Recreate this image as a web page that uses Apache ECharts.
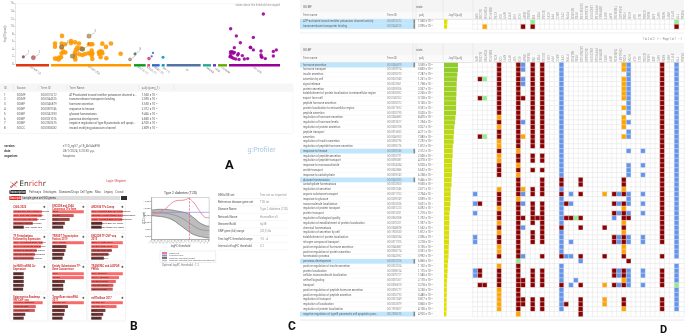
<!DOCTYPE html>
<html><head><meta charset="utf-8">
<style>html,body{margin:0;padding:0;background:#fff;overflow:hidden}#c{width:685px;height:335px;filter:blur(0.35px)}</style>
<script src="https://cdn.jsdelivr.net/npm/echarts@6/dist/echarts.min.js"></script>
</head><body><div id="c"></div>
<script>
/* ---------- Panel A data ---------- */
const sources = [
 ['GO:MF (2)',48,147,'#dc3912'],['GO:BP (53)',153,393,'#ff9900'],['GO:CC (1)',402,437,'#109618'],
 ['KEGG (1)',442,450,'#dd4477'],['REAC (2)',456,479,'#3366cc'],['WP (1)',485,494,'#0099c6'],
 ['TF',500,602,'#5574a6'],['MIRNA',609,633,'#22aa99'],['HPA',639,648,'#6633cc'],['CORUM',654,681,'#66aa00'],['HP (39)',687,840,'#990099']];
const bpPoints=[[186,7.5],[165,5.5],[165,4.65],[185,5.5],[195,5.3],[185,4.4],[213,6.15],[213,5.6],[225,5.8],[237,5.5],[267,5.3],[272,5.3],[277,5.3],[307,5.45],[333,5.5],[318,4.6],[232,4.4],[228,3.8],[225,3.1],[238,2.65],[247,2.45],[255,2.7],[265,2.9],[275,3.6],[277,2.9],[275,2.3],[297,3.15],[305,3.35],[307,2.9],[298,2.65],[302,1.85],[319,1.6],[362,2.8],[165,1.5],[172,1.5],[178,1.75],[183,1.85],[176,1.3],[190,3.35],[196,3.1],[185,2.9],[225,1.85],[226,1.3],[277,1.4],[272,2.9],[242,4.2],[300,3.35],[225,2.45],[248,4.05]];
const keggPoints=[[447,1.5]];
const reacPoints=[[455,2.1],[459,3]];
const wpPoints=[[489,1.85]];
const hpPoints=[[692,9.4],[709,7.5],[721,5.7],[760,7.1],[790,13.3],[703,4.4],[751,4.5],[752,4.4],[760,3.8],[783,3.5],[783,2.45],[784,2],[796,1.5],[786,1.85],[820,3.4],[829,3.8],[820,2.2],[692,3.35],[697,3.35],[703,3.15],[692,2.9],[700,2.9],[715,2.8],[692,2.3],[690,2],[695,1.85],[700,1.6],[707,1.4],[713,2.45],[727,2.3],[733,1.4],[743,1.5],[717,1.3]];
const highlighted=[[70,1.95,'1','#a52a3a',2.6],[100,1.75,'2','#d04a55',4.2],[267,7.45,'3','#c08a3a',4.4],[185,4.6,'4','#a0824a',4.4],[247,4,'5','#8a7a55',4.4],[217,2.16,'6','#a88a40',4.4],[390,1.3,'7','#c08a3a',3],[405,2.7,'8','#2a8a4a',2.6]];
const tableA=[
 ['1','GO:MF','GO:0015272','ATP-activated inward rectifier potassium channel a...',1.56e-2],
 ['2','GO:MF','GO:0044325','transmembrane transporter binding',2.095e-2],
 ['3','GO:BP','GO:0046879','hormone secretion',3.53e-8],
 ['4','GO:BP','GO:0009746','response to hexose',2.312e-5],
 ['5','GO:BP','GO:0042593','glucose homeostasis',9.466e-5],
 ['6','GO:BP','GO:0031016','pancreas development',6.86e-3],
 ['7','GO:BP','GO:2000675','negative regulation of type B pancreatic cell apopt...',4.92e-2],
 ['8','GO:CC','GO:0008282','inward rectifying potassium channel',2.809e-3]];
const metaA=[['version','e110_eg57_p18_4b54a898'],['date','28/1/2024, 3:20:30 μ.μ.'],['organism','hsapiens']];

/* ---------- Panel B data ---------- */
const enrichrNav=['Pathways','Ontologies','Diseases/Drugs','Cell Types','Misc','Legacy','Crowd'];
const cardTitles=['ChEA 2022','ENCODE and ChEA\nConsensus TFs from','ARCHS4 TFs Coexp','TF Perturbations\nFollowed by Expression','TRRUST Transcription\nFactors 2019','ENCODE TF ChIP-seq\n2015','lncHUB lncRNA Co-\nExpression','Enrichr Submissions TF-\nGene Coocurrence','TRANSFAC and JASPAR\nPWMs','Epigenomics Roadmap\nHM ChIP-seq','TargetScan microRNA\n2017','miRTarBase 2017'];
const cardValues=[[.95,.95,.8,.65,.35],[1,.68,.55,.4,.35],[1,1,.98,.35,.33],[.98,.92,.78,.72,.68],[1,.45,.42,.38,.33],[1,.85,.65,.55,.4],[.35,.35,.35,.35,.33],[1,1,.4,.35,.35],[1,.88,.78,.7,.68],[.98,.75,.72,.4,.35],[1,.5,.4,.38,.33],[1,.8,.45,.38,.33]];
const cardTerms=[
 ['FOXA2 ChIP-Seq Human Pancreas','PDX1 ChIP-Seq Human Islets','NKX2-2 ChIP-Seq Human Islets','NEUROD1 ChIP-Seq Mouse','REST ChIP-Seq Human NT2'],
 ['REST','FOXA2','PDX1','TAF1','SP1'],
 ['PDX1 human tf ARCHS4 coexpression','NEUROD1 human tf ARCHS4 coexpression','INSM1 human tf ARCHS4 coexpression','RFX6 human tf ARCHS4 coexp','MAFB human tf ARCHS4 coexp'],
 ['PDX1 KO MOUSE GSE14 DOWN','NKX2-2 KO MOUSE GSE DOWN','FOXA2 KO MOUSE GSE DOWN','HNF1A KO MOUSE GSE DOWN','ISL1 KO MOUSE GSE DOWN'],
 ['PDX1 human','NEUROD1','FOXA2','HNF1A','SP1'],
 ['REST H1-hESC hg19','FOXA2 HepG2 hg19','HNF4A HepG2 hg19','SIN3A K562 hg19','EZH2 NT2 hg19'],
 ['LINC00','MIR7-3','MEG3','H19','GAS5'],
 ['PDX1','FOXA2','NKX6','REST','ISL1'],
 ['PDX1 (mouse)','NKX6-1 (human)','FOXA2 (human)','HNF1A (human)','MAFB (human)'],
 ['H3K4me1 pancreas','H3K27ac islet','H3K4me3 islet','H3K36','H3K9'],
 ['hsa-miR-375','hsa-miR-7','hsa-miR-9','hsa-29','hsa-124'],
 ['hsa-miR-375','hsa-miR-124','hsa-7','hsa-9','hsa-29']];
/* ---------- Panel C data ---------- */
const logfcTicks=['-1.0','-0.8','-0.6','-0.4','-0.2','0.0','0.2','0.4','0.6','0.8','1.0','1.2','1.4','1.6','1.8','2.0','2.2','2.4'];
const observed=[8190,8480,8670,9140,9710,10570,11520,12000,12190,12190,12380,12760,12000,10860,9330,8000,7240,7240];
const lowest=[8760,8760,8760,8760,8760,8760,8760,8760,8760,8760,8760,8760,8760,8760,8760,8760,8760,8760];
const randomMean=[8670,8670,8570,8570,8480,8380,8190,7900,7520,7050,6480,5810,5140,4480,4000,3710,3620,3520];
const randomHigh=[9430,9520,9620,9620,9620,9520,9430,9240,9050,8860,8670,8290,7520,6760,5900,5330,4950,4760];
const randomLow=[7810,7710,7620,7520,7330,7050,6670,6100,5330,4670,3900,3240,2570,2190,1900,1710,1520,1430];
const lccTicks=[2000,4000,6000,8000,10000,12000];
const optimalIdx='1.2';
const runInfo=[['DEGs/DE set','Test set as imported'],['Reference disease gene set','T2D.txt'],['Disease Name','Type 2 diabetes (T2D)'],['Network Name','HumanNet.v3'],['Genome Build','hg38'],['SNP gene (kb) range','(20,0) kb'],['Test logFC threshold range','-10 : 4'],['Interval of logFC threshold','0.2']];
/* ---------- Panel D data ---------- */
const genes=['GIPR','SLC30A','PCSK1N8','INSM1CA','KCNJ','CCK','NPY1','SYT7','VGF','GCG','SNAP','RAB3A','INS','PDX1','SCG3A','GCK1','PPY','ABCC','CPE1','PTPN','NEUROD','RFX6','CACNA1CAS','SLC2A2AS','LINC01018','PPP1R1AS','SERPINA1','SST2','IAPP','TMEM37A','CHGA-AS1','FOXA','KCNK','GLP','ISL1','UCN3A','MAFA','ARX','G6PC','NKX6','HNF1','SYT13','TTR','PAX6A'];
const mfTerms=['ATP-activated inward rectifier potassium channel activity','transmembrane transporter binding'];
const mfIds=['GO:0015272','GO:0044325'];
const mfP=[1.56e-2,2.095e-2];
const mfCells=['g12 g42','o2 d10 d12 d42'];
const bpTerms=['hormone secretion','hormone transport','insulin secretion','secretion by cell','signal release','protein secretion','establishment of protein localization to extracellular region','export from cell','peptide hormone secretion','protein localization to extracellular region','peptide secretion','regulation of hormone secretion','regulation of hormone levels','regulation of protein secretion','peptide transport','secretion','regulation of insulin secretion','regulation of peptide hormone secretion','response to hexose','regulation of peptide secretion','regulation of peptide transport','response to monosaccharide','amide transport','response to carbohydrate','glucose homeostasis','carbohydrate homeostasis','regulation of secretion','organic substance transport','response to glucose','macromolecule localization','regulation of protein transport','protein transport','regulation of biological quality','regulation of establishment of protein localization','chemical homeostasis','regulation of secretion by cell','establishment of protein localization','nitrogen compound transport','positive regulation of hormone secretion','positive regulation of protein secretion','homeostatic process','pancreas development','positive regulation of insulin secretion','protein localization','cellular macromolecule localization','cell-cell signaling','transport','positive regulation of peptide hormone secretion','positive regulation of peptide secretion','regulation of transport','regulation of localization','regulation of protein localization','negative regulation of type B pancreatic cell apoptotic proc...'];
const bpIds=['GO:0046879','GO:0009914','GO:0030073','GO:0032940','GO:0023061','GO:0009306','GO:0035592','GO:0140352','GO:0030072','GO:0071692','GO:0002790','GO:0046883','GO:0010817','GO:0050708','GO:0015833','GO:0046903','GO:0050796','GO:0090276','GO:0009746','GO:0002791','GO:0090087','GO:0034284','GO:0042886','GO:0009743','GO:0042593','GO:0033500','GO:0051046','GO:0071702','GO:0009749','GO:0033036','GO:0051223','GO:0015031','GO:0065008','GO:0070201','GO:0048878','GO:1903530','GO:0045184','GO:0071705','GO:0046887','GO:0050714','GO:0042592','GO:0031016','GO:0032024','GO:0008104','GO:0070727','GO:0007267','GO:0006810','GO:0090277','GO:0002793','GO:0051049','GO:0032879','GO:1903827','GO:2000675'];
const bpP=[3.53e-8,3.853e-8,7.287e-8,1.261e-7,1.758e-7,2.037e-7,2.265e-7,3.128e-7,3.16e-7,3.351e-7,3.52e-7,8.47e-7,1.294e-6,3.027e-6,4.211e-6,7.083e-6,7.292e-6,1.812e-5,2.312e-5,2.5e-5,4.31e-5,5.02e-5,5.632e-5,6.258e-5,9.466e-5,9.53e-5,2.671e-4,2.704e-4,3.039e-4,3.601e-4,6.092e-4,1.21e-3,1.292e-3,1.397e-3,1.552e-3,1.812e-3,2.036e-3,2.218e-3,3.135e-3,3.351e-3,3.992e-3,6.86e-3,1.102e-2,1.175e-2,1.545e-2,2.17e-2,3.218e-2,3.25e-2,3.48e-2,3.817e-2,3.86e-2,4.1e-2,4.92e-2];
const bpHighlight=[0,18,24,41,52];
const bpCells=[
'd5 d9 b10 d12 d14 b18 o31 b32 d39 b42','d5 d9 b10 d12 d14 b18 o31 b32 d39 b42','d5 d9 d12 d14 b18 b32 d39 b42',
'd1 g2 d5 d9 b10 d12 d14 b18 o31 b32 d39 b42','d5 d9 b10 d12 d14 b18 o31 b32 d39 b42','d5 d9 d12 d14 b18 o31 b32 d39 b42',
'd5 d9 d12 d14 b18 o31 b32 d39 b42','d1 g2 d5 d9 d10 d12 d14 b18 o31 b32 d39 b42','d5 d9 d12 d14 b18 b32 d39 b42',
'd5 d9 d12 d14 b18 o31 b32 d39 b42','d5 d9 d12 d14 b18 b32 d39 b42','o5 d9 d12 d14 b18 o31 d39 b42',
'd5 d9 b10 d12 d14 b18 o31 b32 d39 b42','o5 d9 d12 d14 b18 o31 d39 b42','d5 d9 d12 d14 b18 b32 d39 b42',
'd1 g2 d5 d9 o10 d12 d14 b18 o31 b32 d39 b42','o5 d9 d12 d14 b18 d39 b42','o5 d9 d12 d14 b18 d39 b42',
'd5 o9 b18 b32 b35 d39 b42','o5 d9 d12 d14 b18 d39 b42','o5 d9 d12 d14 b18 d39 b42',
'd5 o9 b18 b32 b35 d39 b42','d5 d9 d12 d14 b18 b32 d39 b42','d5 o9 b18 b32 b35 d39 b42',
'd9 d14 d18 d22 d31 d39 b42','d9 d14 d18 d22 d31 d39 b42','o5 d9 o10 d12 d14 b18 o31 d39 b42',
'b0 d5 d9 b10 d12 d14 d18 b20 d22 o27 d29 b30 d31 b32 b35 d39 b42','d5 o9 b18 b32 d39 b42',
'b0 d1 d5 d9 b10 d12 d14 b18 d19 b20 d29 b30 d31 b32 b35 d39 b42','o5 d9 d12 d14 b18 o31 d39 b42',
'b0 d5 d9 d12 d14 b18 d29 b30 d31 b32 b35 d39 b42','d5 d9 d10 d12 d13 d14 b18 d19 d20 g21 d22 b29 d31 d32 d39 b42',
'o5 d9 d12 d14 b18 o31 d39 b42','d5 d9 b10 d14 d18 d22 d27 d31 d39 b42','o5 d9 d12 d14 b18 o31 d39 b42',
'b0 d5 d9 d12 d14 b18 d29 b30 d31 b32 b35 d39 b42','b0 d5 d9 d12 d14 b18 b20 d29 b30 d31 b32 b35 d39 b42',
'o5 d9 b18 o31 b42','o5 d9 b18 o31 b42','d5 d9 b10 d14 d18 b19 b20 d22 d27 d31 d39 b42','g9 b22 d32',
'o5 d9 b18 b42','b0 d1 d5 d9 d12 d14 b18 d29 b30 d31 b32 b35 d39 b42','b0 d1 d5 d9 d12 d14 b18 d29 b30 d31 b32 b35 d39 b42',
'd5 d9 d10 d12 d14 b18 b21 o31 b32 d39 b42','d1 d2 d5 d9 d10 d12 d14 d18 b20 d22 o27 d29 b30 d31 b32 b35 d39 g42',
'o5 d9 b18 b42','o5 d9 b18 b42','o5 d9 d10 d12 d14 b18 d22 o27 d31 d39 b42','o5 d9 d10 d12 d14 b18 d19 d22 o27 d31 d39 b42',
'o5 d9 d12 d14 b18 d22 o31 d39 b42','o9 d22'];

/* ---------- helpers ---------- */
const FONT='Roboto, "Liberation Sans", sans-serif';
const g=[];
const T=(x,y,s,size,fill)=>g.push({type:'text',x,y,silent:true,style:{text:s,fontSize:size,fontFamily:FONT,fill:fill||'#666',align:'left',verticalAlign:'middle'}});
const TS=(x,y,s,size,fill,st)=>g.push({type:'text',x,y,silent:true,style:Object.assign({text:s,fontSize:size,fontFamily:FONT,fill:fill||'#666',align:'left',verticalAlign:'middle'},st)});
const R=(x,y,w,h,fill,stroke,r)=>g.push({type:'rect',silent:true,shape:{x,y,width:w,height:h,r:r||0},style:{fill:fill||'none',stroke:stroke||'none',lineWidth:stroke?0.5:0}});
const L=(x1,y1,x2,y2,c,w)=>g.push({type:'line',silent:true,shape:{x1,y1,x2,y2},style:{stroke:c||'#e4e4e4',lineWidth:w||0.5}});
const SUP={'-':'⁻','0':'⁰','1':'¹','2':'²','3':'³','4':'⁴','5':'⁵','6':'⁶','7':'⁷','8':'⁸','9':'⁹'};
const fmtP=p=>{const [m,e]=p.toExponential(3).split('e');return m+' × 10'+String(+e).replace(/./g,c=>SUP[c]);};
const logP=p=>+(-Math.log10(p)).toFixed(3);
const parseCells=(rows)=>{const code={d:1,o:2,b:3,g:4},out=[];rows.forEach((row,r)=>{const m={};row.split(' ').forEach(t=>{m[+t.slice(1)]=code[t[0]];});genes.forEach((_,c)=>out.push([c,r,m[c]||0]));});return out;};

/* ---------- chrome: panel A ---------- */
L(15,3.7,280,3.7,'#eeeeee',0.5);
TS(280,5.4,'values above this threshold are capped',2.6,'#999',{align:'right'});
g.push({type:'text',x:5,y:34,rotation:Math.PI/2,silent:true,style:{text:'-log10(p-adj)',fontSize:3,fontFamily:FONT,fill:'#777',align:'center',verticalAlign:'middle'}});
R(0,84,293,49.5,'#ffffff','#ececec',1);
R(0,84,293,7.8,'#f6f6f6');
['ID','Source','Term ID','Term Name'].forEach((s,i)=>T([4,16.7,40.7,69.3][i],88,s,2.9,'#777'));
T(141.7,88,'p\u2090dj (query_1)',2.9,'#777');
[13.5,38.5,67,139,174].forEach(x=>L(x,85.5,x,90,'#dddddd',.5));
tableA.forEach((r,i)=>{const y=95+i*4.77;T(4,y,r[0],2.9,'#555');T(16.7,y,r[1],2.9,'#666');T(40.7,y,r[2],2.9,'#666');T(69.3,y,r[3],2.9,'#555');T(141.7,y,fmtP(r[4]),2.9,'#555');});
metaA.forEach((r,i)=>{const y=146.3+i*4.9;TS(4.3,y,r[0],3.1,'#444',{fontWeight:'bold'});T(62.7,y,r[1],3.1,'#666');});
T(247.5,150,'g:Profiler',7,'#a9c6e6');
TS(225,166,'A',13,'#111',{fontWeight:'bold'});

/* ---------- chrome: panel B ---------- */
g.push({type:'line',silent:true,shape:{x1:10.5,y1:187.5,x2:17.5,y2:181.5},style:{stroke:'#c9504f',lineWidth:1.8,lineDash:[1.4,.5]}});
g.push({type:'line',silent:true,shape:{x1:10.5,y1:182,x2:17,y2:187},style:{stroke:'#8a6a6a',lineWidth:.9,lineDash:[1.2,.8]}});
TS(19.3,184,'{a|En}{b|rich}{a|r}',7.5,'#333',{rich:{a:{fontSize:7.5,fontFamily:'"DejaVu Sans"',fill:'#3a3a3a'},b:{fontSize:7.5,fontFamily:'"DejaVu Sans"',fill:'#cc4444'}}});
TS(126,181.5,'Login | Register',2.9,'#cc4444',{align:'right'});
R(9.3,190,16.7,3.9,'#2f2f2f',null,.8);
TS(17.6,192,'Transcription',2.9,'#ffffff',{align:'center'});
enrichrNav.forEach((s,i)=>T([29,43,59,80,95,104,115.3][i],192,s,2.8,'#555'));
R(9.3,196,11.7,4,'#d9312e');
T(10,198,'Description',2.6,'#fff');
R(21,196,99,4,'#dddddd');
T(22,198,'Sample gene set/GO genes',2.8,'#444');
R(121,196,6,4,'#2f2f2f');
const cardX=[10,49,88], cardY=[203,233,263,294], cardH=[27.5,28,29,27];
const barTop=[209.8,240.8,271.8,300.8];
cardTitles.forEach((t,i)=>{
  const cx=cardX[i%3], row=Math.floor(i/3), cy=cardY[row];
  R(cx,cy,37.6,cardH[row],'#ffffff','#e6e6e6',.8);
  TS(cx+3.2,cy+(t.includes('\n')?5.2:4),t,2.6,'#cc3b3b',{fontWeight:'bold',lineHeight:3.2});
  TS(cx+32.5,cy+4,'✚',3.4,'#444');
});
TS(130,327,'B',12,'#111',{fontWeight:'bold'});

/* ---------- chrome: panel C ---------- */
TS(180.5,193,'Type 2 diabetes (T2D)',3.4,'#444',{align:'center'});
g.push({type:'text',x:144,y:218,rotation:Math.PI/2,silent:true,style:{text:'LCC (size)',fontSize:2.8,fontFamily:FONT,fill:'#555',align:'center',verticalAlign:'middle'}});
TS(180.5,246.7,'logFC threshold',2.8,'#555',{align:'center'});
TS(180.5,265,'Optimal logFC threshold : '+optimalIdx,2.9,'#777',{align:'center'});
runInfo.forEach((r,i)=>{const y=195+i*7.35;T(218,y,r[0],2.9,'#555');T(260,y,r[1],2.9,'#999');L(218,y+3.6,289,y+3.6,'#eeeeee',.5);});
TS(288,327,'C',12,'#111',{fontWeight:'bold'});

/* ---------- chrome: panel D ---------- */
const X0=300,XT=303,XID=387,XP=418,XB=444,XH=473,XE=684,RH=4.79;
function tableHead(yTop,hTop,hSub,title){
  R(X0,yTop,XE-X0,hTop,'#f5f5f5');
  R(X0,yTop+hTop,XE-X0,hSub,'#fafafa');
  T(XT,yTop+hTop*.6,title,2.9,'#666');T(416,yTop+hTop*.6,'stats',2.9,'#666');
  const yy=yTop+hTop+hSub/2;
  T(XT,yy,'Term name',2.8,'#777');T(XID,yy,'Term ID',2.8,'#777');T(419,yy,'p\u2090dj',2.8,'#777');T(448,yy,'−log10(p\u2090dj)',2.6,'#777');
  [413,416,443,473].forEach(x=>L(x,yTop,x,yTop+hTop+hSub,'#dddddd',.5));
  L(X0,yTop+hTop+hSub,XE,yTop+hTop+hSub,'#cccccc',.5);
}
function tableRows(y0,terms,ids,ps,hl){
  terms.forEach((t,i)=>{
    const y=y0+i*RH;
    if(hl.includes(i)){R(X0,y,114,RH,'#bfe6fd');R(413.5,y,1.6,RH,'#888888');}
    T(XT,y+RH/2,t,2.8,'#666');T(XID,y+RH/2,ids[i],2.6,'#888');T(XP,y+RH/2,fmtP(ps[i]),2.7,'#666');
    L(X0,y+RH,XH,y+RH,'#f1f1f1',.4);
  });
}
tableHead(0,12,7.3,'GO:MF');
tableRows(19.3,mfTerms,mfIds,mfP,[0,1]);
L(X0,33,XE,33,'#e2e2e2',.6);
TS(682,39.5,'1 to 2 of 2    |‹  ‹   Page 1 of 1   ›  ›|',2.7,'#888',{align:'right'});
tableHead(43,12,7.6,'GO:BP');
tableRows(62.6,bpTerms,bpIds,bpP,bpHighlight);
L(X0,320,XE,320,'#e2e2e2',.8);
TS(660,330,'D',11,'#111',{fontWeight:'bold'});

/* ---------- series ---------- */
const grids=[],xAxes=[],yAxes=[],series=[];
const addGrid=(gr,xa,ya)=>{grids.push(gr);xAxes.push(Object.assign({gridIndex:grids.length-1},xa));yAxes.push(Object.assign({gridIndex:grids.length-1},ya));return grids.length-1;};

/* A */
const gA=addGrid({left:15,top:3.7,width:265,height:60.6},{type:'value',min:45,max:840,show:false},
 {type:'value',min:0,max:16,interval:2,axisLine:{show:true,lineStyle:{color:'#cccccc',width:.5}},axisTick:{length:1.5,lineStyle:{color:'#aaa',width:.5}},splitLine:{show:false},axisLabel:{fontSize:2.8,color:'#888',margin:1.5,fontFamily:FONT}});
const scat=(data,color,size)=>series.push({type:'scatter',xAxisIndex:gA,yAxisIndex:gA,data,symbolSize:size,itemStyle:{color,opacity:.9},silent:true});
scat(bpPoints,'#ff9900',4.6);
scat(keggPoints,'#dd4477',3.6);
scat(reacPoints,'#3366cc',2.2);
scat(wpPoints,'#0099c6',3);
scat(hpPoints,'#990099',3.4);
series.push({type:'scatter',xAxisIndex:gA,yAxisIndex:gA,silent:true,z:4,
  labelLayout:{dx:3,dy:-5},labelLine:{show:true,length2:0,lineStyle:{color:'#888',width:.4}},
  data:highlighted.map(h=>({value:[h[0],h[1]],symbolSize:h[4],itemStyle:{color:h[3],borderColor:'#555',borderWidth:.4},label:{show:true,formatter:h[2],fontSize:2.6,color:'#555',position:'right',distance:0}}))});
series.push({type:'custom',xAxisIndex:gA,yAxisIndex:gA,silent:true,clip:false,data:sources.map(s=>[s[1],s[2],0]),
  renderItem:(p,api)=>{const s=sources[p.dataIndex],a=api.coord([s[1],0]),b=api.coord([s[2],0]);
    return {type:'group',children:[
      {type:'rect',shape:{x:a[0],y:a[1]-.2,width:b[0]-a[0],height:2.4},style:{fill:s[3]}},
      {type:'text',x:(a[0]+b[0])/2+3,y:a[1]+6,rotation:-Math.PI/5,style:{text:s[0],fontSize:2.9,fontFamily:FONT,fill:'#777',align:'center',verticalAlign:'middle'}}]};}});

/* B */
const shade=v=>echarts.color.lerp(Math.min(1,Math.max(0,(v-.33)/.5)),['#5a3030','#a04a4a','#f96a6a']);
cardValues.forEach((vals,i)=>{
  const row=Math.floor(i/3), col=i%3, cx=cardX[col];
  const w=[29.5,31,31][col]*1.02;
  const gi=addGrid({left:cx+3.2,top:barTop[row],width:w,height:19.3},{type:'value',min:0,max:1,show:false},
    {type:'category',inverse:true,show:false,data:cardTerms[i]});
  series.push({type:'bar',xAxisIndex:gi,yAxisIndex:gi,silent:true,data:vals,barWidth:3,
    itemStyle:{color:p=>shade(p.value)},
    label:{show:true,position:'insideLeft',distance:.5,fontSize:2.3,color:'#3a1818',fontFamily:FONT,formatter:p=>p.name}});
});

/* C */
const gC=addGrid({left:151.7,top:197.5,width:57.5,height:42,show:true,borderColor:'#aaaaaa',borderWidth:.5},
 {type:'category',boundaryGap:false,data:logfcTicks,axisLine:{lineStyle:{color:'#888',width:.5}},axisTick:{show:true,length:1,interval:0,lineStyle:{width:.4,color:'#888'}},axisLabel:{interval:0,rotate:45,fontSize:2.4,color:'#666',margin:1.2,fontFamily:FONT}},
 {type:'value',min:1000,max:13000,axisLine:{show:true,lineStyle:{color:'#888',width:.5}},axisTick:{show:true,length:1,customValues:lccTicks,lineStyle:{width:.4,color:'#888'}},splitLine:{show:false},axisLabel:{fontSize:2.4,color:'#666',margin:1.2,customValues:lccTicks,fontFamily:FONT}});
const lineC=(name,data,color,w,o)=>series.push(Object.assign({name,type:'line',xAxisIndex:gC,yAxisIndex:gC,data,symbol:'none',silent:true,smooth:.2,lineStyle:{color,width:w},itemStyle:{color}},o));
lineC('bandBase',randomLow,'#444',.5,{stack:'rand'});
lineC('Random subnets (two standard deviations)',randomHigh.map((v,i)=>v-randomLow[i]),'#444',.5,{stack:'rand',areaStyle:{color:'#bdbdbd',opacity:1},itemStyle:{color:'#bdbdbd'}});
lineC('Random subnets (mean)',randomMean,'#777',.5);
lineC('Lowest score',lowest,'#8a8ae0',.7);
lineC('Observed',observed,'#ea7f8c',.9,{z:5,markLine:{silent:true,symbol:'none',label:{show:false},lineStyle:{color:'#e2468f',type:'dashed',width:.6},data:[{xAxis:logfcTicks[11]}]}});

/* D */
const barColor=p=>echarts.color.lerp(Math.min(1,Math.max(0,(p.value-1)/6.5)),['#e6e000','#cddc10','#8fcb2c']);
const barAxis={type:'value',min:0,max:8,show:false};
function dTable(top,terms,ps,cells){
  const h=terms.length*RH;
  const a=addGrid({left:XB,top,width:15,height:h},barAxis,{type:'category',inverse:true,show:false,data:terms});
  series.push({type:'bar',xAxisIndex:a,yAxisIndex:a,silent:true,data:ps.map(logP),barCategoryGap:'8%',itemStyle:{color:barColor}});
  const b=addGrid({left:XH,top,width:XE-XH,height:h},
    {type:'category',position:'top',data:genes,axisLine:{show:false},axisTick:{show:false},splitLine:{show:false},axisLabel:{interval:0,rotate:90,fontSize:2.8,color:'#999',margin:.8,fontFamily:FONT}},
    {type:'category',inverse:true,show:false,data:terms});
  series.push({type:'heatmap',xAxisIndex:b,yAxisIndex:b,silent:true,data:parseCells(cells),itemStyle:{borderColor:'#e4e4e4',borderWidth:.5},emphasis:{disabled:true}});
  return series.length-1;
}
const h1=dTable(19.3,mfTerms,mfP,mfCells);
const h2=dTable(62.6,bpTerms,bpP,bpCells);

const chart=echarts.init(document.getElementById('c'),null,{renderer:'canvas'});
chart.setOption({
  animation:false,backgroundColor:'#ffffff',textStyle:{fontFamily:FONT},
  grid:grids,xAxis:xAxes,yAxis:yAxes,series,
  graphic:{elements:g},
  legend:{show:true,orient:'vertical',left:160,top:251,itemWidth:5,itemHeight:1.4,itemGap:.5,padding:1,borderColor:'#dddddd',borderWidth:.5,selectedMode:false,
    textStyle:{fontSize:2.4,color:'#666',fontFamily:FONT,padding:[0,0,0,-3]},
    data:['Observed','Lowest score','Random subnets (mean)',{name:'Random subnets (two standard deviations)',icon:'rect'}]},
  visualMap:[{type:'piecewise',show:false,seriesIndex:[h1,h2],dimension:2,pieces:[{value:0,color:'#ffffff'},{value:1,color:'#8b0000'},{value:2,color:'#ffa500'},{value:3,color:'#6495ed'},{value:4,color:'#90ee90'}]}]
});
</script></body></html>
